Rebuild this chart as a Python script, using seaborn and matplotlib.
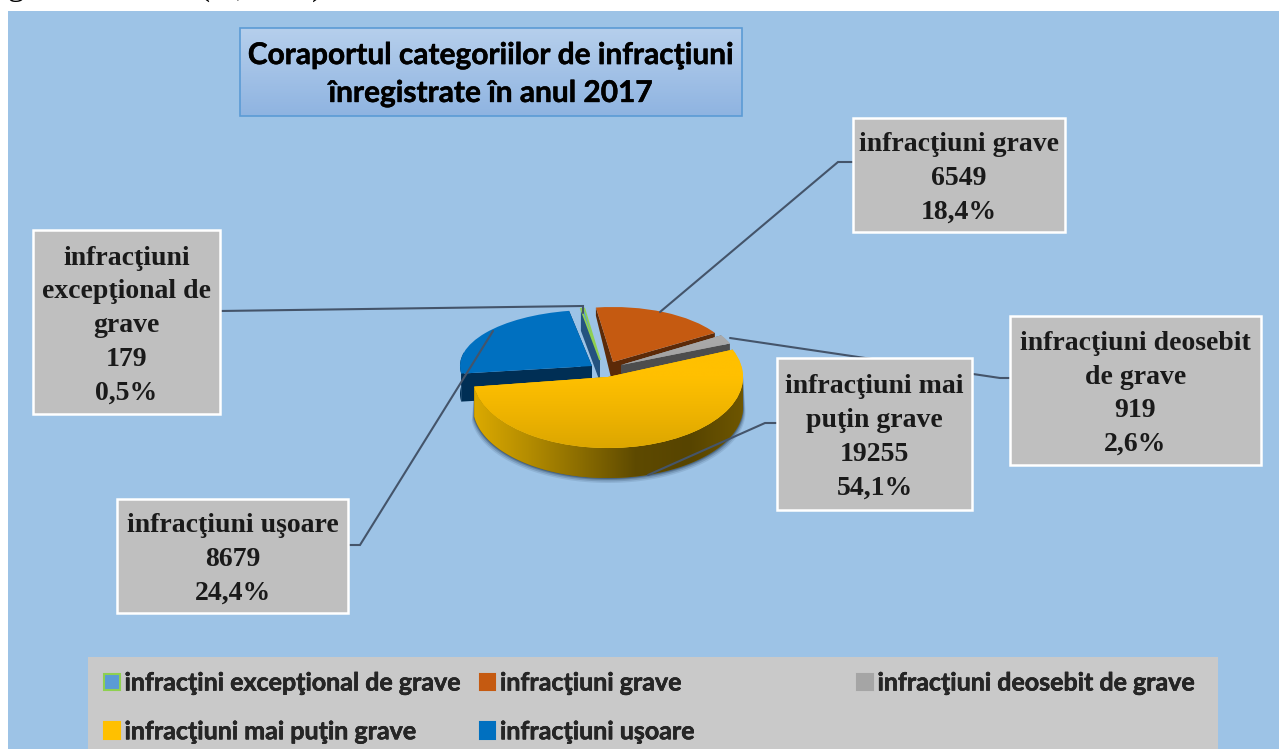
import numpy as np
import matplotlib
matplotlib.use("Agg")
import matplotlib.pyplot as plt
import matplotlib.patheffects as pe
import seaborn as sns
from matplotlib.colors import LinearSegmentedColormap
from matplotlib.patches import Polygon, Rectangle, Patch

# ---------- data ----------
legend_names = ["infracţini excepţional de grave", "infracţiuni grave",
                "infracţiuni deosebit de grave", "infracţiuni mai puţin grave",
                "infracţiuni uşoare"]
label_names = ["infracţiuni\nexcepţional de\ngrave", "infracţiuni grave",
               "infracţiuni deosebit\nde grave", "infracţiuni mai\npuţin grave",
               "infracţiuni uşoare"]
values = [179, 6549, 919, 19255, 8679]
percent_labels = ["0,5%", "18,4%", "2,6%", "54,1%", "24,4%"]
title_lines = "Coraportul categoriilor de infracţiuni\nînregistrate în anul 2017"
cropped_glyphs = ["g", "(", ",", ")"]

# ---------- style ----------
W, H = 1279, 749
sns.set_theme(style="white")
SERIF = ["Liberation Serif", "DejaVu Serif"]
SANS = ["Lato", "Open Sans", "DejaVu Sans"]
plt.rcParams["font.family"] = SANS

top_colors = sns.color_palette(["#5b9bd5", "#c55a11", "#a5a5a5", "#ffc000", "#0070c0"])
wall_colors = ["#24527f", "#5c2a08", "#4d4d4d", "#8a6c00", "#002f55"]
edge_colors = ["#8fd050", "none", "none", "none", "none"]

# per-slice geometry in pixels: apex x, apex y, x radius, y radius, front depth, back depth
geometry = [(600, 360, 110, 52, 22, 22), (613, 362, 120, 55, 24, 8), (621, 365, 118, 56, 16, 16),
            (608, 377, 135, 71, 30, 30), (592, 366, 132, 56, 28, 28)]
draw_order = [4, 1, 0, 2, 3]
START = 100

def depth_at(theta_deg, front, back):
    s = np.sin(np.radians(theta_deg))
    return front + (back - front) * max(s, 0)

fig = plt.figure(figsize=(W / 100, H / 100), dpi=100, facecolor="white")

bg = fig.add_axes([0, 0, 1, 1], zorder=0)
bg.set_xlim(0, W); bg.set_ylim(H, 0); bg.axis("off")
bg.add_patch(Rectangle((8, 11), W - 8, H - 11, facecolor="#9dc3e6", edgecolor="none"))

for rank, i in enumerate(draw_order):
    cx, cy, rx, ry, d0, d1 = geometry[i]
    ax = fig.add_axes([(cx - rx) / W, 1 - (cy + ry) / H, 2 * rx / W, 2 * ry / H], zorder=1 + rank)
    wedges, _ = ax.pie(values, colors=top_colors, startangle=START, counterclock=False,
                       radius=1, wedgeprops={"linewidth": 0})
    ax.set_aspect("auto")
    ax.patch.set_alpha(0)
    for j, w in enumerate(wedges):
        if j != i:
            w.set_visible(False)
    w = wedges[i]
    w.set_clip_on(False)
    dy0 = d0 / ry

    t1, t2 = w.theta1, w.theta2
    for t in (t1, t2):
        c, s = np.cos(np.radians(t)), np.sin(np.radians(t))
        de = depth_at(t, d0, d1) / ry
        ax.add_patch(Polygon([(0, 0), (c, s), (c, s - de), (0, -dy0)], closed=True,
                             facecolor=wall_colors[i], edgecolor="none", clip_on=False, zorder=0.5))
    # outer wall
    ts = np.linspace(t1, t2, 160)
    ts = ts[np.sin(np.radians(ts)) < (0.25 if i != 3 else 0.05)]
    if len(ts) > 1:
        xs, ys = np.cos(np.radians(ts)), np.sin(np.radians(ts))
        ds = np.array([depth_at(t, d0, d1) for t in ts]) / ry
        pts = np.r_[np.c_[xs, ys], np.c_[xs, ys - ds][::-1]]
        if i == 3:
            for extra, a in [(5, .10), (3.5, .16), (2, .22), (1, .3)]:
                sh = np.r_[np.c_[xs, ys], np.c_[xs * (1 + extra / rx / 2), ys - ds - extra / ry][::-1]]
                ax.add_patch(Polygon(sh, closed=True, facecolor="#10233a", alpha=a,
                                     edgecolor="none", clip_on=False, zorder=0.4))
            wall = Polygon(pts, closed=True, facecolor=wall_colors[i], edgecolor="none",
                           clip_on=False, zorder=0.6)
            ax.add_patch(wall)
            cmap = LinearSegmentedColormap.from_list("w", ["#dcaa00", "#b58d00", "#8a6c00", "#5e4a00", "#574400", "#6e5600"])
            im = ax.imshow(np.linspace(0, 1, 256)[None, :], extent=(-1, 1, -2, 1), cmap=cmap,
                           aspect="auto", zorder=0.7)
            im.set_clip_box(fig.bbox)
            im.set_clip_path(wall)
        else:
            ax.add_patch(Polygon(pts, closed=True, facecolor=wall_colors[i], edgecolor="none",
                                 clip_on=False, zorder=0.6))
    w.set_zorder(1)
    if edge_colors[i] != "none":
        w.set_edgecolor(edge_colors[i]); w.set_linewidth(1.2)
    if i == 2:
        cmap = LinearSegmentedColormap.from_list("g", ["#8c8c8c", "#b4b4b4"])
        im = ax.imshow(np.linspace(0, 1, 64)[:, None], extent=(-1, 1, -1, 1), origin="lower",
                       cmap=cmap, aspect="auto", zorder=1.1)
        im.set_clip_path(w)
    if i == 3:
        cmap = LinearSegmentedColormap.from_list("y", ["#dca600", "#efb400", "#ffc000", "#ffc000", "#ffca3c"])
        im = ax.imshow(np.linspace(0, 1, 256)[:, None], extent=(-1, 1, -1, 1), origin="lower",
                       cmap=cmap, aspect="auto", zorder=1.1)
        im.set_clip_path(w)
    ax.set_xlim(-1, 1); ax.set_ylim(-1, 1)
    ax.axis("off")

top = fig.add_axes([0, 0, 1, 1], zorder=20)
top.set_xlim(0, W); top.set_ylim(H, 0); top.axis("off"); top.patch.set_alpha(0)

# remnants of the cropped line of text above the panel (cut off in the reference too)
for glyph, gx in zip(cropped_glyphs, [8, 198, 236, 312]):
    top.text(gx, -5, glyph, ha="left", va="baseline", family=SERIF, fontsize=24,
             color="black", clip_on=False)

# title box
tc = LinearSegmentedColormap.from_list("t", ["#b6cfec", "#8fb4e1"])
tb = Rectangle((240, 28), 502, 88, facecolor="none", edgecolor="#5b9bd5", linewidth=1.2, zorder=3)
top.add_patch(tb)
im = top.imshow(np.linspace(0, 1, 64)[:, None], extent=(240, 742, 116, 28), cmap=tc,
                aspect="auto", zorder=2)
im.set_clip_path(tb)
top.set_xlim(0, W); top.set_ylim(H, 0)
top.text(491, 74, title_lines, ha="center", va="center", fontsize=21.5, fontweight="bold",
         color="black", linespacing=1.43, zorder=4,
         path_effects=[pe.withStroke(linewidth=0.35, foreground="black")])

# leader lines
LINE = "#44546a"
leaders = [[(220, 311), (583, 306), (583, 313)],
           [(853, 162), (838, 162), (660, 312)],
           [(1010, 378), (1000, 378), (730, 338)],
           [(777, 423), (765, 423), (648, 475)],
           [(348, 545), (360, 545), (493, 331)]]
for pts in leaders:
    xs, ys = zip(*pts)
    top.plot(xs, ys, color=LINE, lw=1.5, zorder=5, solid_joinstyle="miter")

# data labels
boxes = [(33, 230, 220, 414), (853, 118, 1065, 232), (1010, 316, 1261, 465),
         (777, 358, 972, 510), (117, 499, 348, 613)]
for i, (x0, y0, x1, y1) in enumerate(boxes):
    top.add_patch(Rectangle((x0, y0), x1 - x0, y1 - y0, facecolor="#bfbfbf",
                            edgecolor="white", linewidth=1.8, zorder=6))
    top.text((x0 + x1) / 2, (y0 + y1) / 2 + 3.5, f"{label_names[i]}\n{values[i]}\n{percent_labels[i]}",
             ha="center", va="center", family=SERIF, fontweight="bold", fontsize=20,
             color="#1a1a1a", linespacing=1.46, zorder=7)

# legend
top.add_patch(Rectangle((88, 657), 1130, H - 657 + 2, facecolor="#c9c9c9", edgecolor="none", zorder=6))

def make_legend(idx, x, ncol):
    hs = [Patch(facecolor=top_colors[i], linewidth=1.5,
                edgecolor=edge_colors[i] if edge_colors[i] != "none" else top_colors[i]) for i in idx]
    leg = top.legend(hs, [legend_names[i] for i in idx], ncol=ncol, loc="upper left",
                     bbox_to_anchor=(x / W, 1 - 671.5 / H), bbox_transform=fig.transFigure,
                     frameon=False, prop={"family": SANS, "weight": "bold", "size": 18},
                     handlelength=0.62, handleheight=0.62, handletextpad=0.2, columnspacing=0.72,
                     labelspacing=1.03, borderpad=0, borderaxespad=0)
    leg.set_zorder(8)
    for t in leg.get_texts():
        t.set_path_effects([pe.withStroke(linewidth=0.35, foreground="black")])
    return leg

top.add_artist(make_legend([0, 3, 1, 4], 104, 2))
make_legend([2], 857, 1)

fig.savefig("out.png", dpi=100, facecolor="white")
